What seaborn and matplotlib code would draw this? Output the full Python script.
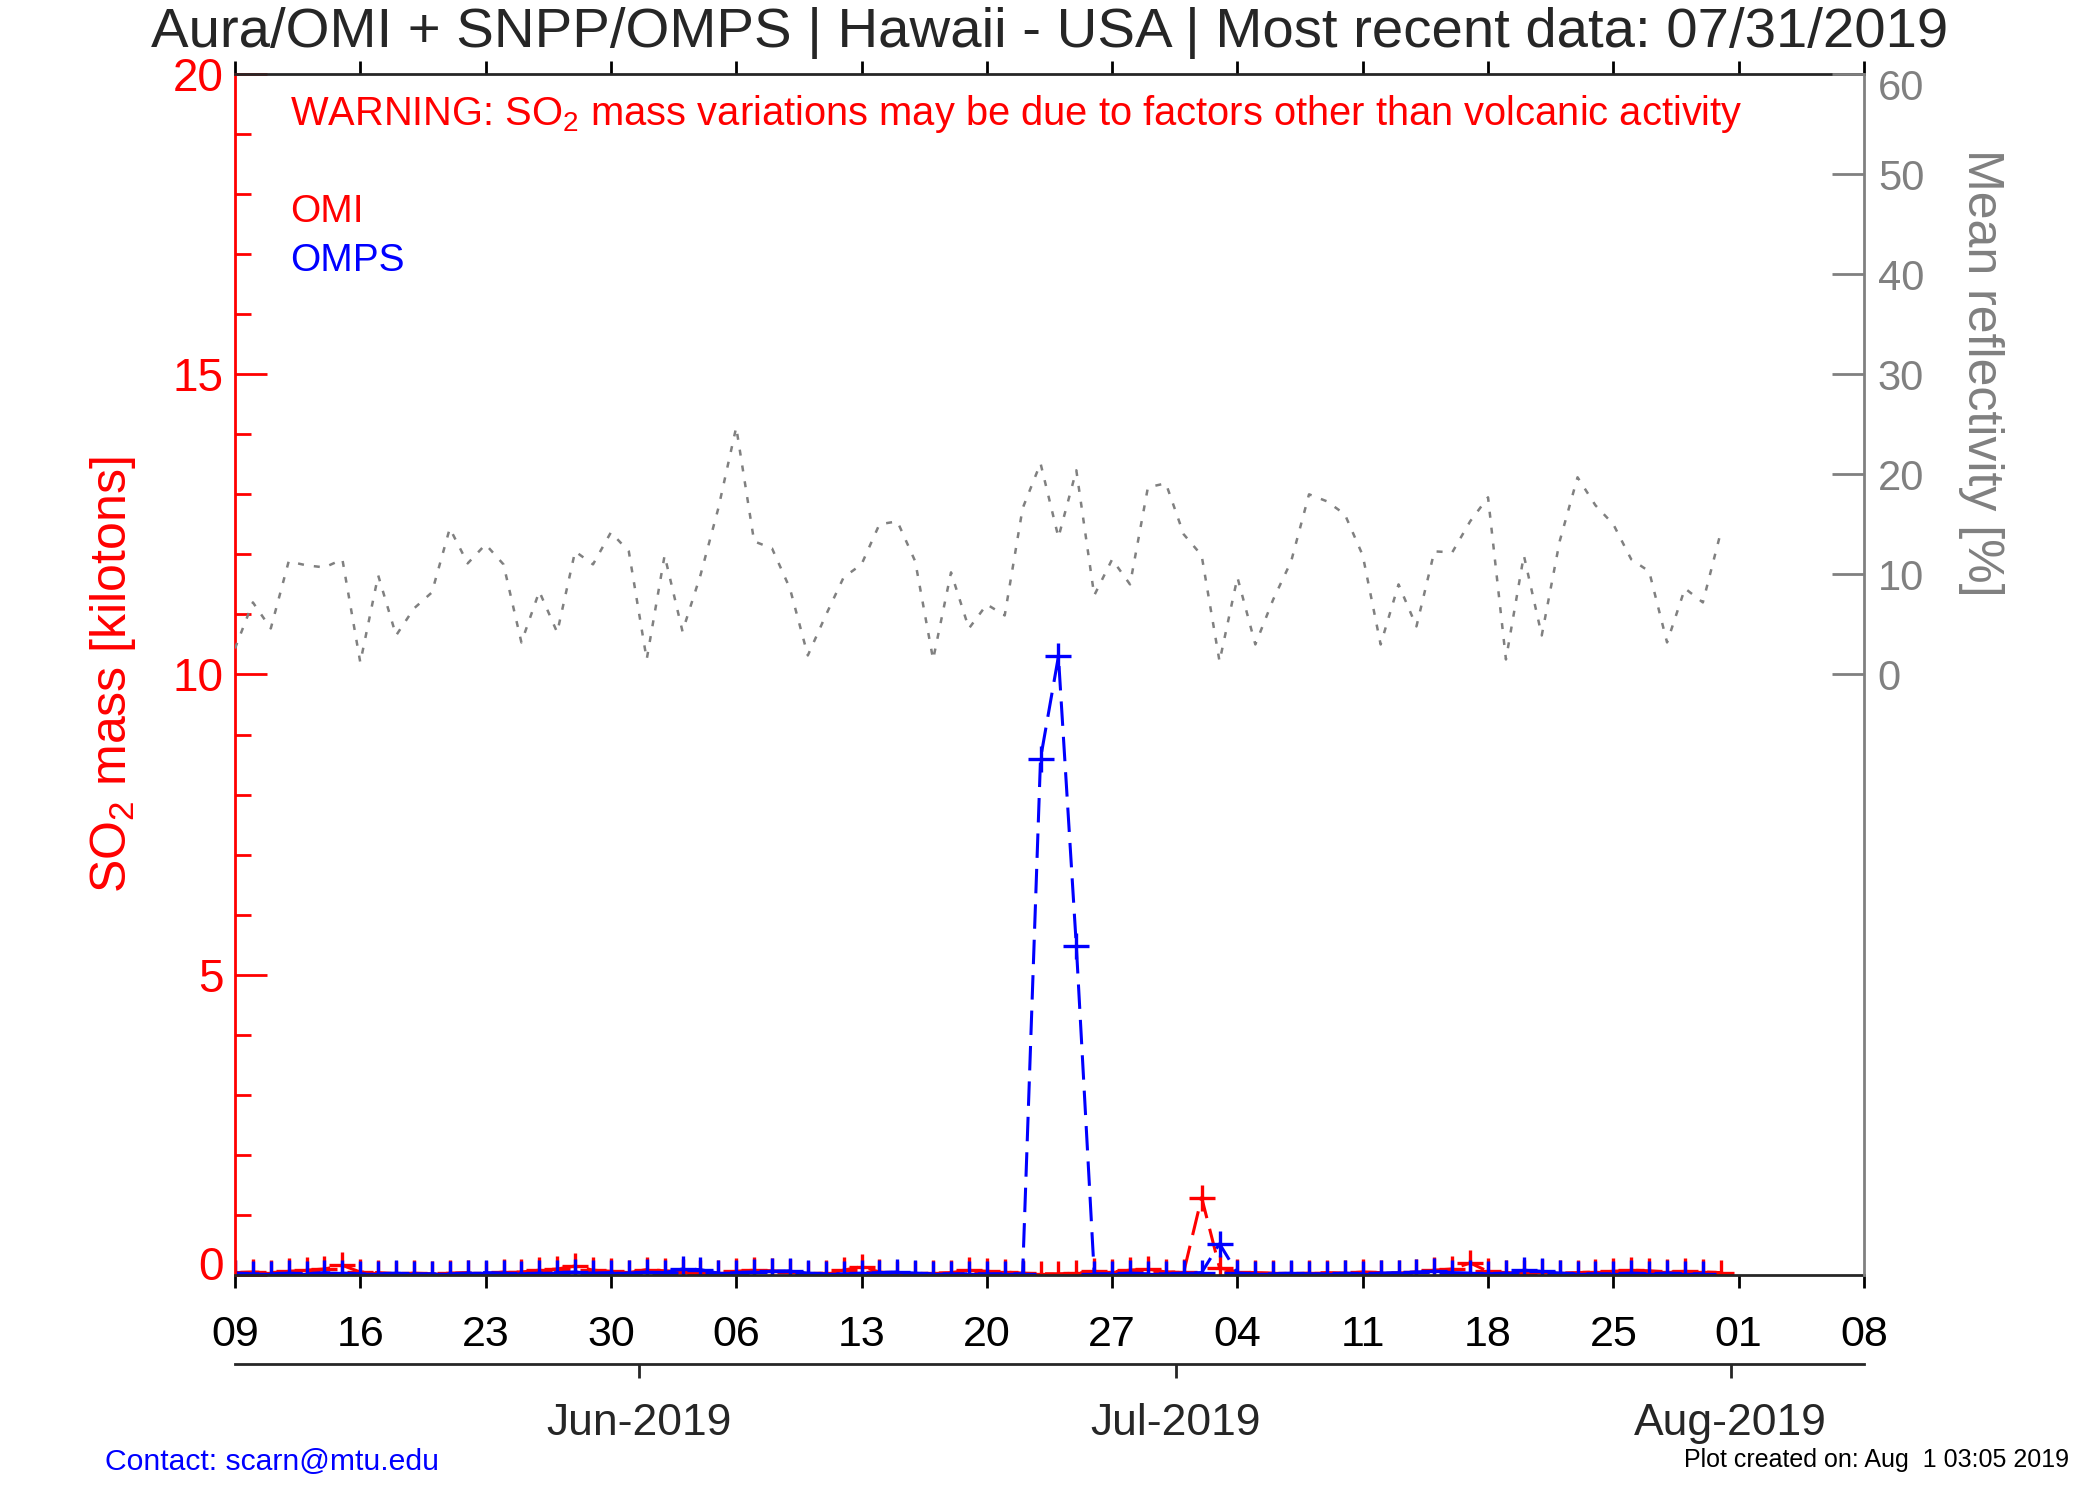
import pandas as pd
import numpy as np
import matplotlib
matplotlib.use("Agg")
import matplotlib.pyplot as plt
import matplotlib.dates as mdates
from matplotlib.ticker import MultipleLocator
from matplotlib.transforms import ScaledTranslation
import seaborn as sns

# daily SO2 mass [kt], OMI May 09 - Jul 31, OMPS May 09 - Jul 30
omi_start, omi_end = "2019-05-09", "2019-07-31"
omps_start, omps_end = "2019-05-09", "2019-07-30"
omi_so2 = [
    0.04, 0.05, 0.04, 0.06, 0.08, 0.10, 0.16,
    0.05, 0.04, 0.02, 0.03, 0.02, 0.03, 0.04,
    0.02, 0.05, 0.05, 0.08, 0.10, 0.15, 0.08,
    0.06, 0.04, 0.09, 0.07, 0.05, 0.03, 0.04,
    0.06, 0.08, 0.07, 0.05, 0.02, 0.03, 0.08,
    0.14, 0.05, 0.02, 0.02, 0.03, 0.04, 0.08,
    0.06, 0.05, 0.03, 0.02, 0.02, 0.03, 0.06,
    0.05, 0.08, 0.10, 0.05, 0.05, 1.29, 0.12,
    0.05, 0.04, 0.03, 0.02, 0.03, 0.04, 0.03,
    0.05, 0.04, 0.03, 0.05, 0.08, 0.10, 0.20,
    0.06, 0.04, 0.03, 0.05, 0.03, 0.04, 0.05,
    0.06, 0.08, 0.07, 0.05, 0.06, 0.05, 0.04,
]
omps_so2 = [
    0.03, 0.02, 0.02, 0.03, 0.02, 0.04, 0.03,
    0.02, 0.02, 0.03, 0.02, 0.02, 0.02, 0.03,
    0.04, 0.03, 0.02, 0.03, 0.04, 0.05, 0.03,
    0.04, 0.03, 0.05, 0.04, 0.10, 0.09, 0.03,
    0.04, 0.05, 0.06, 0.07, 0.03, 0.02, 0.02,
    0.03, 0.04, 0.05, 0.03, 0.02, 0.02, 0.02,
    0.02, 0.02, 0.02, 8.60, 10.30, 5.48, 0.02,
    0.02, 0.03, 0.02, 0.02, 0.03, 0.04, 0.52,
    0.03, 0.02, 0.02, 0.03, 0.02, 0.02, 0.03,
    0.02, 0.03, 0.04, 0.05, 0.06, 0.04, 0.03,
    0.02, 0.03, 0.08, 0.06, 0.03, 0.02, 0.02,
    0.02, 0.03, 0.02, 0.03, 0.02, 0.02,
]
# mean reflectivity [%], May 09 - Jul 31
reflectivity = [
    2.6, 7.2, 4.6, 11.3, 10.9, 10.7, 11.5,
    1.2, 9.9, 3.9, 6.6, 8.2, 14.6, 11.1,
    13.0, 11.0, 3.2, 8.3, 4.2, 12.3, 11.0,
    14.2, 12.3, 1.5, 11.9, 4.3, 9.9, 16.6,
    24.7, 13.3, 12.6, 8.6, 1.9, 5.9, 9.7,
    11.0, 15.0, 15.3, 11.3, 1.5, 10.2, 4.6,
    7.0, 5.9, 16.6, 21.1, 13.7, 20.4, 7.9,
    11.5, 9.0, 18.7, 19.1, 14.0, 11.9, 1.3,
    9.7, 3.0, 7.5, 11.3, 18.0, 17.3, 16.0,
    11.9, 3.0, 9.0, 4.8, 12.3, 12.2, 15.3,
    17.7, 1.5, 11.9, 3.9, 13.3, 19.7, 16.9,
    15.0, 11.5, 10.3, 3.2, 8.6, 7.2, 14.2,
]

x_start, x_end = "2019-05-09", "2019-08-08"
day_ticks = pd.date_range(x_start, x_end, freq="7D")
month_ticks = pd.to_datetime(["2019-06-01", "2019-07-01", "2019-08-01"])

omi = pd.DataFrame({"date": pd.date_range(omi_start, omi_end), "so2": omi_so2})
omps = pd.DataFrame({"date": pd.date_range(omps_start, omps_end), "so2": omps_so2})
refl = pd.DataFrame({"date": pd.date_range(omi_start, omi_end), "refl": reflectivity})

sns.set_style("ticks")
plt.rcParams["font.family"] = ["Liberation Sans", "DejaVu Sans"]
plt.rcParams["mathtext.fontset"] = "custom"
plt.rcParams["mathtext.rm"] = "Liberation Sans"
plt.rcParams["mathtext.it"] = "Liberation Sans"

fig = plt.figure(figsize=(21, 15), dpi=100)
ax = fig.add_axes([0.1119, 0.150, 0.7757, 0.8007])
ax2 = ax.twinx()

dash = (0, (8, 3.6))
for df, col in [(omi, "red"), (omps, "blue")]:
    sns.lineplot(data=df, x="date", y="so2", ax=ax, color=col, linestyle=dash,
                 linewidth=2.2, marker="+", markersize=19, markeredgewidth=2.4,
                 markeredgecolor=col, markerfacecolor=col)
sns.lineplot(data=refl, x="date", y="refl", ax=ax2, color="#808080",
             linestyle=(0, (2.4, 4)), linewidth=1.8)

xlim = (mdates.date2num(pd.Timestamp(x_start)), mdates.date2num(pd.Timestamp(x_end)))
ax.set_xlim(xlim)
ax.set_ylim(0, 20)
ax2.set_ylim(-60, 60)

# left axis (SO2)
ax.set_yticks(range(0, 21, 5))
ax.yaxis.set_minor_locator(MultipleLocator(1))
ax.tick_params(axis="y", which="major", direction="in", length=23, width=2,
               colors="red", labelsize=33, pad=8)
ax.tick_params(axis="y", which="minor", direction="in", length=11.5, width=2,
               colors="red")
ax.tick_params(axis="y", right=False)
ax.spines["left"].set_color("red")
ax.spines["right"].set_visible(False)
for s in ["left", "top", "bottom"]:
    ax.spines[s].set_linewidth(2)
ax.set_ylabel(r"SO$_\mathregular{2}$ mass [kilotons]", color="red", fontsize=36)
ax.yaxis.set_label_coords(-0.0595, 0.5)

# x axis (days)
ax.set_xticks(day_ticks)
ax.xaxis.set_major_formatter(mdates.DateFormatter("%d"))
ax.tick_params(axis="x", which="major", direction="out", length=9.5, width=2,
               colors="black", labelsize=31, pad=19, top=True)
ax.set_xlabel("")

# right axis (reflectivity)
ax2.set_yticks(range(0, 61, 10))
ax2.tick_params(axis="y", direction="in", length=23, width=2, colors="#808080",
                labelsize=30, pad=10)
for s in ["left", "top", "bottom"]:
    ax2.spines[s].set_visible(False)
ax2.spines["right"].set_color("#808080")
ax2.spines["right"].set_linewidth(2)
ax2.set_ylabel("Mean reflectivity [%]", color="#808080", fontsize=36,
               rotation=-90, va="bottom")
ax2.yaxis.set_label_coords(1.0575, 0.751)

# month axis below (ticks sit half a day before the month start)
axm = fig.add_axes([0.1119, 0.0907, 0.7757, 0.0001])
axm.set_xlim(xlim)
axm.set_yticks([])
for s in ["left", "right", "top"]:
    axm.spines[s].set_visible(False)
axm.spines["bottom"].set_linewidth(2)
axm.set_xticks(mdates.date2num(month_ticks) - 0.45)
axm.set_xticklabels([d.strftime("%b-%Y") for d in month_ticks])
axm.tick_params(axis="x", direction="out", length=10, width=2, labelsize=32, pad=18)
axm.patch.set_visible(False)

# texts
ax.text(0.034, 0.967, r"WARNING: SO$_\mathregular{2}$ mass variations may be due to factors other than volcanic activity",
        transform=ax.transAxes, color="red", fontsize=28.7, va="center", ha="left")
ax.text(0.034, 0.885, "OMI", transform=ax.transAxes, color="red", fontsize=28, va="center")
ax.text(0.034, 0.844, "OMPS", transform=ax.transAxes, color="blue", fontsize=28, va="center")

fig.text(0.5, 0.978, "Aura/OMI + SNPP/OMPS | Hawaii - USA | Most recent data: 07/31/2019",
         ha="center", va="center", fontsize=40.6)
fig.text(0.0498, 0.0253, "Contact: scarn@mtu.edu", color="blue", fontsize=21.7,
         ha="left", va="center")
fig.text(0.985, 0.027, "Plot created on: Aug  1 03:05 2019", color="black",
         fontsize=18, ha="right", va="center")

# end labels are nudged inward, as in the original
fig.canvas.draw()
zero = ax.yaxis.get_major_ticks()[0].label1
zero.set_transform(zero.get_transform() + ScaledTranslation(0, 12 / 100, fig.dpi_scale_trans))
top = ax2.yaxis.get_major_ticks()[-1].label2
top.set_transform(top.get_transform() + ScaledTranslation(0, -11 / 100, fig.dpi_scale_trans))

fig.savefig("out.png", dpi=100)
